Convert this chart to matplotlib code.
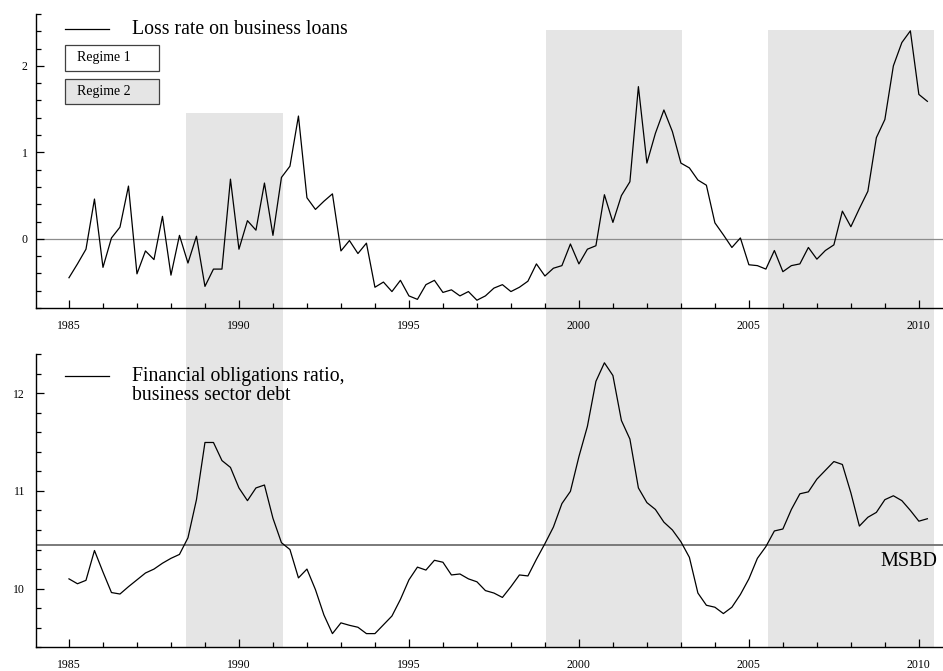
import numpy as np
import matplotlib
matplotlib.use("Agg")
import matplotlib.pyplot as plt
from matplotlib.patches import Rectangle
from matplotlib.lines import Line2D
from matplotlib.transforms import blended_transform_factory


# quarterly observations, 1985Q1 - 2010Q2
quarters = np.arange(1985, 2010.26, 0.25)

loss_rate = [
    -0.45, -0.29, -0.12, 0.46, -0.33, 0.01, 0.135, 0.61, -0.405, -0.14,
    -0.24, 0.26, -0.42, 0.04, -0.28, 0.03, -0.55, -0.35, -0.35, 0.69,
    -0.12, 0.21, 0.10, 0.645, 0.04, 0.71, 0.84, 1.42, 0.475, 0.34,
    0.435, 0.52, -0.14, -0.02, -0.17, -0.05, -0.56, -0.50, -0.61, -0.48,
    -0.66, -0.70, -0.53, -0.48, -0.62, -0.59, -0.66, -0.61, -0.71, -0.66,
    -0.57, -0.53, -0.61, -0.56, -0.49, -0.29, -0.43, -0.34, -0.31, -0.06,
    -0.29, -0.12, -0.08, 0.51, 0.19, 0.50, 0.66, 1.76, 0.876, 1.22,
    1.49, 1.24, 0.876, 0.82, 0.68, 0.62, 0.185, 0.046, -0.10, 0.01,
    -0.30, -0.31, -0.35, -0.135, -0.38, -0.31, -0.29, -0.10, -0.235, -0.135,
    -0.07, 0.32, 0.14, 0.35, 0.55, 1.17, 1.38, 2.0, 2.27, 2.405,
    1.67, 1.59,
]

fin_ratio = [
    10.10, 10.05, 10.085, 10.39, 10.17, 9.96, 9.945, 10.02, 10.09, 10.16,
    10.20, 10.26, 10.31, 10.35, 10.52, 10.91, 11.495, 11.495, 11.31, 11.24,
    11.03, 10.90, 11.03, 11.06, 10.72, 10.47, 10.40, 10.11, 10.20, 9.99,
    9.73, 9.54, 9.65, 9.625, 9.605, 9.54, 9.54, 9.63, 9.72, 9.89,
    10.09, 10.22, 10.19, 10.29, 10.27, 10.14, 10.15, 10.10, 10.07, 9.98,
    9.955, 9.91, 10.02, 10.14, 10.13, 10.30, 10.46, 10.63, 10.87, 10.995,
    11.35, 11.66, 12.12, 12.31, 12.18, 11.72, 11.53, 11.03, 10.88, 10.81,
    10.68, 10.60, 10.48, 10.32, 9.955, 9.83, 9.81, 9.745, 9.81, 9.94,
    10.10, 10.31, 10.43, 10.59, 10.61, 10.81, 10.97, 10.99, 11.12, 11.21,
    11.30, 11.27, 10.98, 10.64, 10.73, 10.78, 10.91, 10.95, 10.90, 10.80,
    10.69, 10.715,
]

# regime 2 periods and how far up the shading reaches in the loss-rate panel
regime2_start = [1988.44, 1999.03, 2005.56]
regime2_end = [1991.30, 2003.04, 2010.45]
regime2_top = [1.46, 2.42, 2.42]

msbd = 10.45

year_ticks = [1985, 1990, 1995, 2000, 2005, 2010]

SHADE = "#e5e5e5"

plt.rcParams["font.family"] = ["Liberation Serif", "DejaVu Serif"]

W, H = 943, 671
fig = plt.figure(figsize=(W / 100, H / 100), dpi=100)


def fx(px):
    return px / W


def fy(py):
    return 1 - py / H


ax_top = fig.add_axes([fx(36), fy(308), fx(943) - fx(36), fy(14) - fy(308)])
ax_bot = fig.add_axes([fx(36), fy(647.3), fx(943) - fx(36), fy(354) - fy(647.3)])

for ax in (ax_top, ax_bot):

    ax.set_facecolor("none")

    ax.set_xlim(1984.03, 2010.71)

    for side in ("top", "right"):
        ax.spines[side].set_visible(False)

    for side in ("left", "bottom"):
        ax.spines[side].set_linewidth(1.0)

    ax.set_xticks(year_ticks)
    ax.set_xticks(np.arange(1985, 2011, 1), minor=True)
    ax.set_xticklabels([str(y) for y in year_ticks])

    ax.tick_params(axis="both", which="major", direction="in",
                   length=6, width=0.9, labelsize=8.5)
    ax.tick_params(axis="both", which="minor", direction="in",
                   length=3.5, width=0.9)
    ax.tick_params(axis="x", which="major", pad=8.5)

##################################################
# loss rate panel

ax_top.set_ylim(-0.8, 2.6)
ax_top.set_yticks([0, 1, 2])
ax_top.set_yticks(np.arange(-0.8, 2.61, 0.2), minor=True)
ax_top.tick_params(axis="y", which="major", pad=6)

ax_top.axhline(0, color="#8c8c8c", lw=0.9, zorder=1)
ax_top.plot(quarters, loss_rate, color="black", lw=0.9, zorder=3)

##################################################
# financial obligations panel

ax_bot.set_ylim(9.4, 12.4)
ax_bot.set_yticks([10, 11, 12])
ax_bot.set_yticks(np.arange(9.4, 12.41, 0.2), minor=True)
ax_bot.tick_params(axis="y", which="major", pad=8)

ax_bot.axhline(msbd, color="#7a7a7a", lw=1.4, zorder=1)
ax_bot.plot(quarters, fin_ratio, color="black", lw=0.9, zorder=3)

ax_bot.annotate("MSBD", xy=(2010.53, msbd), xytext=(0, -5),
                textcoords="offset points", ha="right", va="top",
                fontsize=14.5)

##################################################
# regime 2 shading, running from the lower axis up into the upper panel

shade_trans = blended_transform_factory(ax_bot.transData, fig.transFigure)
to_fig = ax_top.transData + fig.transFigure.inverted()
bot_fig = fy(647.3)

for x0, x1, top in zip(regime2_start, regime2_end, regime2_top):

    top_fig = to_fig.transform((x0, top))[1]

    fig.add_artist(Rectangle((x0, bot_fig), x1 - x0, top_fig - bot_fig,
                             transform=shade_trans, facecolor=SHADE,
                             edgecolor="none", zorder=-1))

##################################################
# legends

fig.add_artist(Line2D([fx(65), fx(109)], [fy(28.5), fy(28.5)],
                      color="black", lw=0.9))
fig.text(fx(132), fy(29), "Loss rate on business loans",
         fontsize=14.2, va="center", ha="left")

for top_px, label, fill in [(45, "Regime 1", "white"), (78.5, "Regime 2", SHADE)]:

    fig.add_artist(Rectangle((fx(64.5), fy(top_px + 25.5)), fx(94), 25.5 / H,
                             transform=fig.transFigure, facecolor=fill,
                             edgecolor="#404040", lw=0.9))

    fig.text(fx(77), fy(top_px + 13), label, fontsize=10,
             va="center", ha="left")

fig.add_artist(Line2D([fx(65), fx(109)], [fy(375.5), fy(375.5)],
                      color="black", lw=0.9))
fig.text(fx(132), fy(376), "Financial obligations ratio,",
         fontsize=14.2, va="center", ha="left")
fig.text(fx(132), fy(396), "business sector debt",
         fontsize=14.2, va="center", ha="left")

plt.savefig("out.png", dpi=100)

plt.close()
